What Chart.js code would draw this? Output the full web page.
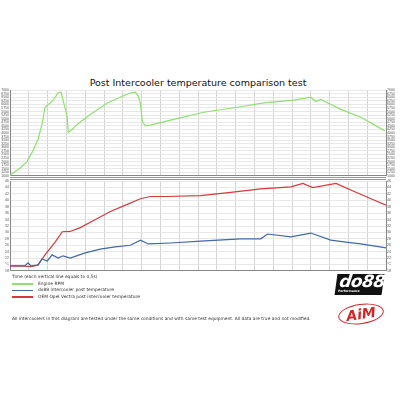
<!DOCTYPE html>
<html>
<head>
<meta charset="utf-8">
<script src="https://cdn.jsdelivr.net/npm/chart.js@4"></script>
<style>
  body { margin: 0; background: #fff; font-family: "DejaVu Sans", sans-serif; }
  #wrap { position: relative; width: 400px; height: 400px; overflow: hidden; }
  canvas { position: absolute; left: 0; }
  #title { position: absolute; top: 77px; left: 10px; width: 376px; text-align: center; font-size: 9.5px; color: #111; }
  #sep { position: absolute; left: 10px; width: 376px; top: 177px; height: 1px; border-top: 1px solid #999; border-bottom: 1px solid #999; }
  .small { position: absolute; font-size: 4.4px; color: #333; white-space: nowrap; }
  .leg { position: absolute; left: 12px; width: 21px; height: 1.5px; }
  #do88 { position: absolute; left: 336px; top: 274px; width: 47px; height: 21px; background: #111; transform: skewX(-8deg); color: #fff; }
  #do88 b { position: absolute; left: 3px; top: -3px; font: italic bold 17px "DejaVu Sans", sans-serif; letter-spacing: -0.5px; }
  #do88 i { position: absolute; left: 3px; top: 15px; font: bold 3px "DejaVu Sans", sans-serif; }
  #aim { position: absolute; left: 338px; top: 304px; width: 44px; height: 18px; border: 1.5px solid #d0272b; border-radius: 50%; transform: rotate(-8deg); color: #d0272b; text-align: center; font: italic bold 14px "DejaVu Sans", sans-serif; line-height: 18px; }
</style>
</head>
<body>
<div id="wrap">
  <div id="title">Post Intercooler temperature comparison test</div>
  <canvas id="rpmChart" width="400" height="92" style="top:87px"></canvas>
  <div id="sep"></div>
  <canvas id="tempChart" width="400" height="96" style="top:178px"></canvas>
  <div class="small" style="left:12px;top:274px">Time (each vertical line equals to 0,5s)</div>
  <div id="legend"></div>
  <div class="small" style="left:12px;top:316px">All intercoolers in this diagram are tested under the same conditions and with same test equipment. All data are true and not modified.</div>
  <div id="do88"><b>do88</b><i>Performance</i></div>
  <div id="aim">AiM</div>
</div>
<script>
// === DATOS ===
const seriesNames = ["Engine RPM", "do88 intercooler post temperature", "OEM Opel Vectra post intercooler temperature"];
const seriesColors = ["#8fe070", "#3f69a8", "#d23a3c"];

// tiempo en segundos (cada línea vertical = 0,5 s)
const rpmTime = [0, 0.27, 0.45, 0.61, 0.75, 0.85, 0.93, 1.07, 1.15, 1.28, 1.36, 1.44, 1.52, 1.55, 1.65, 1.79, 2.13, 2.59, 2.93, 3.2, 3.33, 3.41, 3.47, 3.52, 3.6, 3.73, 4.27, 5.15, 6.05, 6.75, 7.55, 8.0, 8.13, 8.27, 8.45, 8.8, 9.33, 9.97];
const rpmValues = [1050, 1550, 2000, 2750, 3600, 4600, 5800, 6100, 6300, 6800, 6850, 6000, 5150, 4050, 4250, 4600, 5300, 6100, 6500, 6800, 6850, 6600, 6000, 4800, 4500, 4550, 4900, 5450, 5800, 6100, 6300, 6500, 6200, 6350, 6100, 5650, 5100, 4150];

const doTime = [0, 0.4, 0.48, 0.55, 0.75, 0.85, 0.99, 1.12, 1.28, 1.41, 1.6, 2.0, 2.4, 2.8, 3.2, 3.47, 3.68, 4.27, 5.07, 6.13, 6.67, 6.85, 7.47, 8.0, 8.53, 8.93, 9.33, 10];
const doValues = [19.6, 19.6, 20.5, 19.6, 19.8, 21.7, 21.1, 23, 22, 22.7, 22, 23.6, 24.8, 25.5, 26, 27.6, 26.4, 26.7, 27.3, 28, 28, 29.5, 28.6, 29.8, 27.6, 27, 26.4, 25.2];

const oemTime = [0, 0.4, 0.55, 0.67, 0.75, 0.93, 1.2, 1.39, 1.6, 1.87, 2.27, 2.67, 3.07, 3.47, 3.73, 4.13, 5.07, 5.87, 6.67, 7.47, 7.79, 8.05, 8.67, 9.2, 9.6, 10];
const oemValues = [19.5, 19.5, 19.3, 19.6, 20, 23, 27, 30.2, 30.3, 31.5, 34, 36.5, 38.5, 40.5, 41.2, 41.2, 41.5, 42.5, 43.6, 44.2, 45.3, 44, 45.3, 42.5, 40.5, 38.5];

const rpmMin = 1000, rpmMax = 7000, rpmStep = 250;
const tempMin = 18, tempMax = 46, tempStep = 2;

function pts(xs, ys) { return xs.map((x, i) => ({ x: x, y: ys[i] })); }

// === EJES ===
function ejeX() {
  return {
    type: "linear", min: 0, max: 10,
    ticks: { display: false, stepSize: 0.5 },
    grid: { color: "#c9c9c9", drawTicks: false, lineWidth: 0.8 },
    border: { color: "#888" }
  };
}
function ejeY(min, max, step, pos, cb) {
  return {
    position: pos, min: min, max: max,
    afterFit: (s) => { s.width = pos === "left" ? 10 : 14; },
    ticks: { stepSize: step, autoSkip: false, font: { size: 3.5 }, color: "#555", padding: 1, callback: cb },
    grid: { display: pos === "left", color: "#e2e2e2", drawTicks: false, lineWidth: 0.8 },
    border: { color: "#888" }
  };
}
const opcionesBase = {
  responsive: false, animation: false,
  layout: { padding: 0 },
  plugins: { legend: { display: false }, tooltip: { enabled: false } },
  elements: { point: { radius: 0 }, line: { borderWidth: 1.2, tension: 0 } }
};

// === GRÁFICO RPM ===
new Chart(document.getElementById("rpmChart"), {
  type: "line",
  data: { datasets: [{ label: seriesNames[0], data: pts(rpmTime, rpmValues), borderColor: seriesColors[0], yAxisID: "y" }] },
  options: Object.assign({}, opcionesBase, {
    scales: {
      x: ejeX(),
      y: ejeY(rpmMin, rpmMax, rpmStep, "left"),
      yR: ejeY(rpmMin, rpmMax, rpmStep, "right")
    }
  })
});

// === GRÁFICO TEMPERATURA ===
const tempLabel = (v) => v === 20 ? "°C" : v;
new Chart(document.getElementById("tempChart"), {
  type: "line",
  data: {
    datasets: [
      { label: seriesNames[1], data: pts(doTime, doValues), borderColor: seriesColors[1], yAxisID: "y" },
      { label: seriesNames[2], data: pts(oemTime, oemValues), borderColor: seriesColors[2], yAxisID: "y" }
    ]
  },
  options: Object.assign({}, opcionesBase, {
    scales: {
      x: ejeX(),
      y: ejeY(tempMin, tempMax, tempStep, "left", tempLabel),
      yR: ejeY(tempMin, tempMax, tempStep, "right", tempLabel)
    }
  })
});

// === LEYENDA ===
const legend = document.getElementById("legend");
seriesNames.forEach((n, i) => {
  const top = 283 + i * 6.5;
  legend.innerHTML += `<div class="leg" style="top:${top}px;background:${seriesColors[i]}"></div>` +
    `<div class="small" style="left:38px;top:${top - 2.2}px">${n}</div>`;
});
</script>
</body>
</html>
